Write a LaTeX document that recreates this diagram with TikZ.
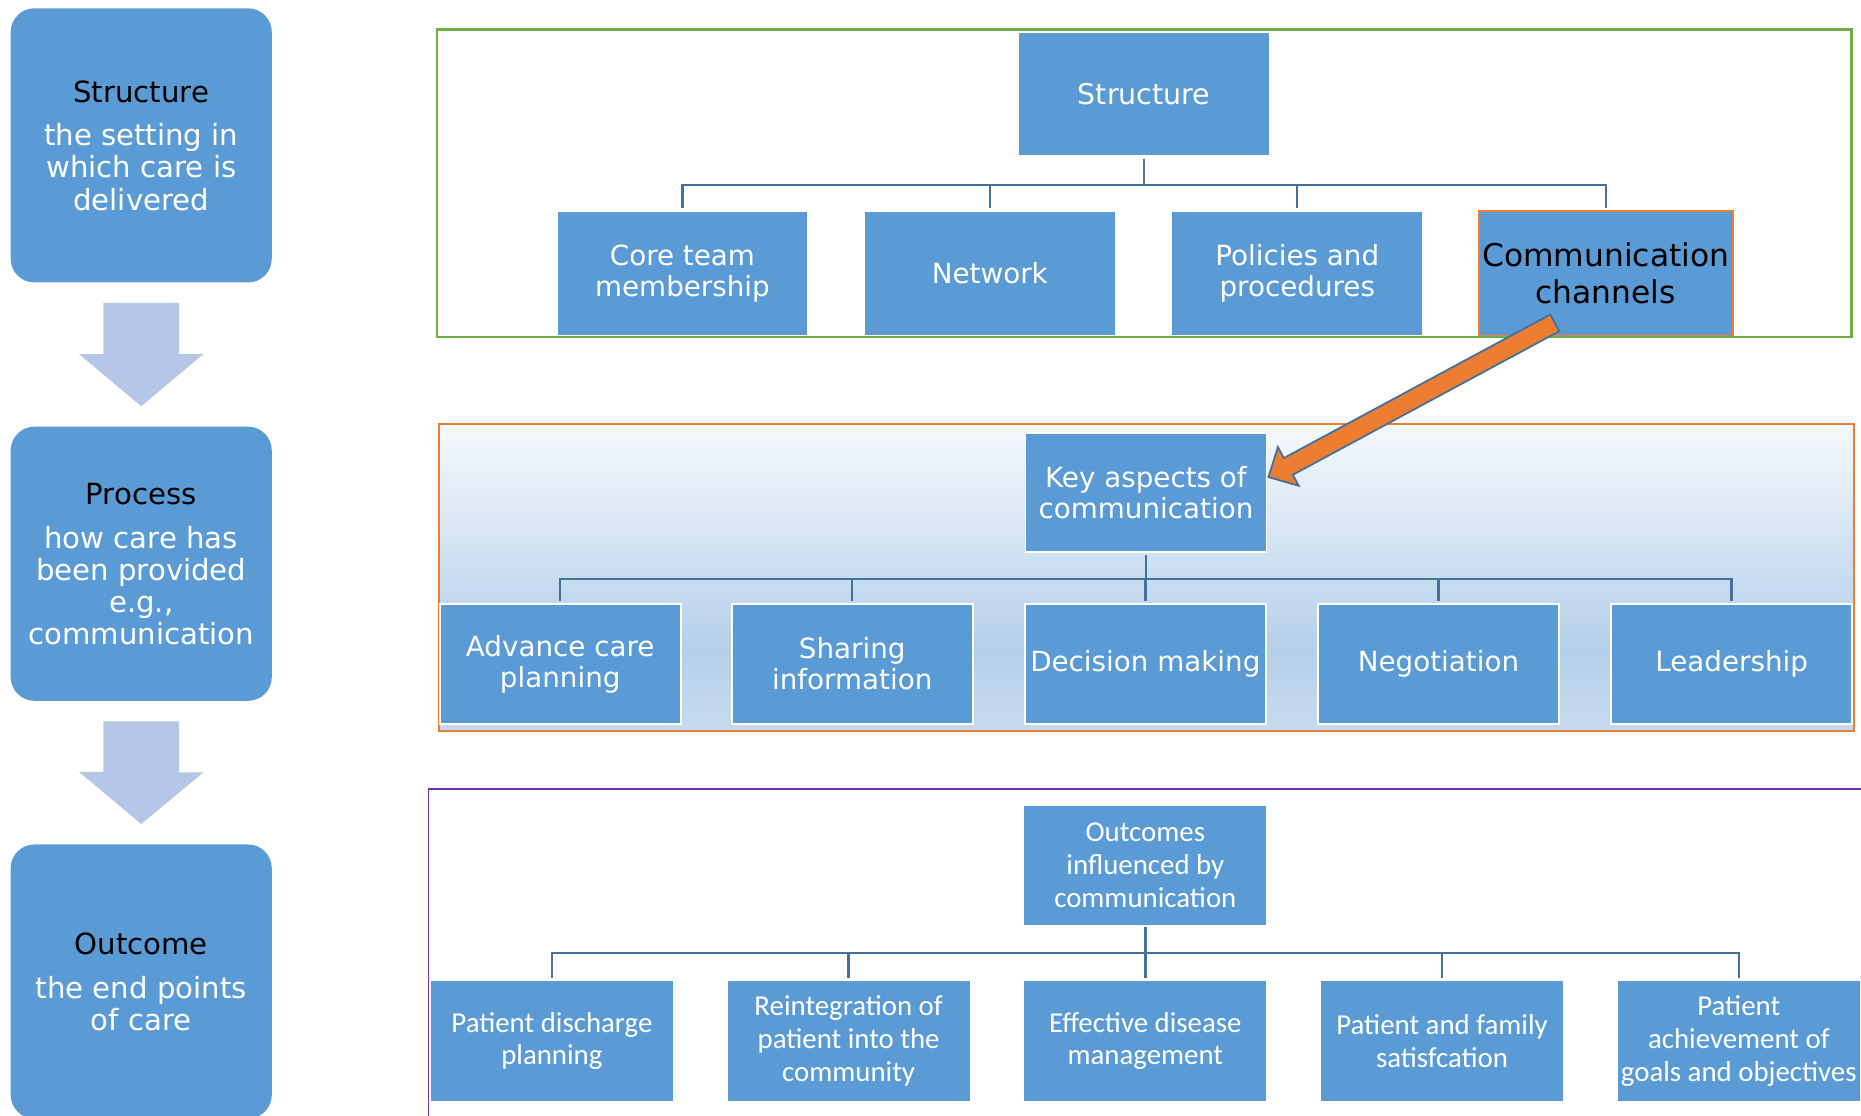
\documentclass[tikz,border=0pt]{standalone}
\usepackage{fontspec}
\setmainfont{DejaVu Sans}
\newfontfamily\calibrifont{Carlito}
\usetikzlibrary{calc}
\definecolor{boxblue}{RGB}{91,155,213}
\definecolor{linkblue}{RGB}{65,113,156}
\definecolor{palearrow}{RGB}{180,199,231}
\definecolor{framegreen}{RGB}{112,173,71}
\definecolor{frameorange}{RGB}{237,125,49}
\definecolor{framepurple}{RGB}{112,48,160}
\definecolor{fadetop}{RGB}{246,249,253}
\definecolor{fademid}{RGB}{180,207,234}
\definecolor{fadebottom}{RGB}{199,219,239}
\pgfdeclareverticalshading{panelfade}{100bp}{color(0bp)=(fadebottom); color(25bp)=(fadebottom);
  color(38bp)=(fademid); color(75bp)=(fadetop); color(100bp)=(fadetop)}
\newcommand{\stagefont}{\fontsize{24.6}{27}\selectfont}
\newcommand{\unitfont}{\fontsize{23.4}{26}\selectfont}
\newcommand{\bigunitfont}{\fontsize{26.4}{31}\selectfont}
\newcommand{\outfont}{\calibrifont\fontsize{24.3}{27.5}\selectfont}
\tikzset{
  stagebox/.style={fill=boxblue, rounded corners=20pt, minimum width=220pt, minimum height=231pt,
    align=center, text=white, font=\stagefont, inner sep=0pt},
  unitbox/.style={fill=boxblue, draw=white, line width=1.5pt, align=center, text=white,
    font=\unitfont, inner sep=0pt},
  outbox/.style={fill=boxblue, align=center, text=white, font=\outfont, inner sep=0pt,
    minimum width=204pt, minimum height=101pt},
  link/.style={draw=linkblue, line width=2pt, shorten <=2pt, shorten >=2pt},
}

\begin{document}
\begin{tikzpicture}[x=1pt, y=-1pt]
  \clip (0,0) rectangle (1568,939.5);

  % left column
  \node[stagebox] (s1) at (119,122.5) {{\color{black}Structure}\\[10pt]the setting in\\which care is\\delivered};
  \node[stagebox] (s2) at (119,475) {{\color{black}Process}\\[10pt]how care has\\been provided\\e.g.,\\communication};
  \node[stagebox] (s3) at (119,827) {{\color{black}Outcome}\\[10pt]the end points\\of care};
  \foreach \a/\b in {s1/s2, s2/s3} {
    \fill[palearrow] ($(\a.south)+(-32,17)$) -- ++(64,0) -- ++(0,43) -- ++(20.5,0)
      -- ($(\b.north)+(0,-17)$) -- ++(-52.5,-44) -- ++(20.5,0) -- cycle;
  }

  % structure panel
  \node[unitbox, minimum width=212pt, minimum height=104pt, font=\fontsize{24}{27}\selectfont] (str) at (964,79) {Structure};
  \foreach \x/\name/\txt in {575/core/Core team\\membership, 834/net/Network, 1093/pol/Policies and\\procedures} {
    \node[unitbox, minimum width=212pt, minimum height=105pt] (\name) at (\x,230.5) {\txt};
  }
  \node[unitbox, draw=frameorange, line width=2pt, text=black, font=\bigunitfont,
    minimum width=214pt, minimum height=105pt] (com) at (1353,230.5) {Communication\\channels};
  \foreach \name in {core,net,pol,com}
    \draw[link] (str.south) -- ++(0,24) -| (\name.north);
  \draw[framegreen, line width=2pt] (368,25) rectangle (1560,284);

  % process panel
  \shade[shading=panelfade] (370,357) rectangle (1562,616);
  \draw[frameorange, line width=2pt] (370,357) rectangle (1562,616);
  \node[unitbox, minimum width=203pt, minimum height=100pt] (key) at (965.5,415) {Key aspects of\\communication};
  \foreach \x/\name/\txt in {472/acp/Advance care\\planning, 718/share/Sharing\\information,
      965/dec/Decision making, 1212/neg/Negotiation, 1459/lead/Leadership} {
    \node[unitbox, minimum width=203pt, minimum height=101pt] (\name) at (\x,559.5) {\txt};
  }
  \foreach \name in {acp,share,dec,neg,lead}
    \draw[link] (key.south) -- ++(0,22) -| (\name.north);

  % outcome panel
  \draw[framepurple, line width=1.5pt] (361,665) rectangle (1620,990);
  \node[outbox, minimum height=100pt] (outc) at (965,729) {Outcomes\\influenced by\\communication};
  \foreach \x/\name/\txt in {465/dis/Patient discharge\\planning, 715/reint/Reintegration of\\patient into the\\community,
      965/eff/Effective disease\\management, 1215/fam/Patient and family\\satisfcation,
      1465/goal/Patient\\achievement of\\goals and objectives} {
    \node[outbox] (\name) at (\x,877) {\txt};
  }
  \foreach \name in {dis,reint,eff,fam,goal}
    \draw[link] (outc.south) -- ++(0,24) -| (\name.north);

  % orange arrow from communication channels to key aspects
  \coordinate (tail) at ($(com.south)+(-43,-12)$);
  \coordinate (tip) at ($(key.east)+(1,-13)$);
  \coordinate (neck) at ($(tip)!19pt!(tail)$);
  \filldraw[fill=frameorange, draw=linkblue, line width=1.5pt]
    ($(tail)!8pt!90:(tip)$) -- ($(neck)!8pt!90:(tip)$) -- ($(neck)!18.5pt!90:(tip)$) -- (tip)
    -- ($(neck)!18.5pt!-90:(tip)$) -- ($(neck)!8pt!-90:(tip)$) -- ($(tail)!8pt!-90:(tip)$) -- cycle;
\end{tikzpicture}
\end{document}
